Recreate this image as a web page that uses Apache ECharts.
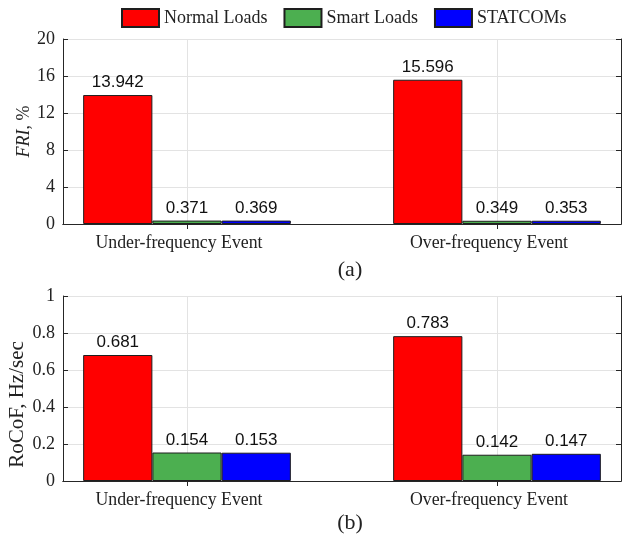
<!DOCTYPE html>
<html>
<head>
<meta charset="utf-8">
<script src="https://cdn.jsdelivr.net/npm/echarts@6/dist/echarts.min.js"></script>
<style>
  html, body { margin: 0; padding: 0; background: #fff; }
  #chart { width: 624px; height: 542px; }
</style>
</head>
<body>
<div id="chart"></div>
<script>
// Event categories, placed at x = 1 and x = 2
const categories = ['Under-frequency Event', 'Over-frequency Event'];
const categoryPos = [1, 2];
const seriesNames = ['Normal Loads', 'Smart Loads', 'STATCOMs'];
const seriesColors = ['#ff0000', '#4caf50', '#0000ff'];

// (a) frequency response index, %
const friNormal = [13.942, 15.596];
const friSmart = [0.371, 0.349];
const friStatcom = [0.369, 0.353];

// (b) rate of change of frequency, Hz/sec
const rocofNormal = [0.681, 0.783];
const rocofSmart = [0.154, 0.142];
const rocofStatcom = [0.153, 0.147];

const serif = "'Liberation Serif', 'Times New Roman', serif";
const sans = "'Liberation Sans', Arial, sans-serif";
const frameColor = '#262626';
const gridColor = '#e3e3e3';

const grids = [
  { left: 63, right: 3, top: 39, height: 185, outerBoundsMode: 'none', containLabel: false },
  { left: 63, right: 3, top: 296, height: 185, outerBoundsMode: 'none', containLabel: false }
];

function xAxes(gi) {
  const base = { type: 'value', gridIndex: gi, min: 0.6, max: 2.4,
    splitLine: { show: false } };
  return [
    Object.assign({}, base, {
      position: 'bottom',
      axisLine: { lineStyle: { color: frameColor } },
      axisTick: { inside: true, length: 5, customValues: categoryPos, lineStyle: { color: frameColor } },
      axisLabel: { customValues: categoryPos, margin: 10, color: '#222',
        fontFamily: serif, fontSize: 17.8, padding: [0, 16, 0, 0],
        formatter: v => categories[categoryPos.indexOf(Math.round(v))] || '' }
    }),
    Object.assign({}, base, {
      position: 'top',
      axisLine: { show: true, lineStyle: { color: frameColor } },
      axisTick: { inside: true, length: 5, customValues: categoryPos, lineStyle: { color: frameColor } },
      axisLabel: { show: false }
    })
  ];
}

function yAxes(gi, max, interval, name, nameGap, nameStyle) {
  const base = { type: 'value', gridIndex: gi, min: 0, max: max, interval: interval };
  return [
    Object.assign({}, base, {
      position: 'left',
      name: name, nameLocation: 'middle', nameGap: nameGap, nameMoveOverlap: false,
      nameTextStyle: nameStyle,
      axisLine: { show: true, lineStyle: { color: frameColor } },
      axisTick: { show: true, inside: true, length: 5, lineStyle: { color: frameColor } },
      axisLabel: { margin: 8, color: '#222', fontFamily: serif, fontSize: 18 },
      splitLine: { show: true, lineStyle: { color: gridColor, width: 1 } }
    }),
    Object.assign({}, base, {
      position: 'right',
      axisLine: { show: true, lineStyle: { color: frameColor } },
      axisTick: { show: true, inside: true, length: 5, lineStyle: { color: frameColor } },
      axisLabel: { show: false },
      splitLine: { show: false }
    })
  ];
}

function toPoints(vals) {
  return vals.map((v, i) => [categoryPos[i], v]);
}

function barSeries(name, color, vals, gi) {
  return {
    name: name, type: 'bar',
    xAxisIndex: gi * 2, yAxisIndex: gi * 2,
    data: toPoints(vals),
    barGap: '0%', barCategoryGap: '33%',
    z: 3,
    itemStyle: { color: color, borderColor: '#1e1e1e', borderWidth: 1 },
    label: { show: true, position: 'top', distance: 4, color: '#111',
      fontFamily: sans, fontSize: 17,
      formatter: p => p.value[1].toFixed(3) }
  };
}

// vertical grid lines at each event position, drawn beneath the bars
function vGrid(gi) {
  return {
    type: 'line', xAxisIndex: gi * 2, yAxisIndex: gi * 2, data: [], z: 1,
    silent: true,
    markLine: { silent: true, z: 1, symbol: ['none', 'none'], label: { show: false },
      lineStyle: { color: gridColor, type: 'solid', width: 1 },
      data: categoryPos.map(x => ({ xAxis: x })) }
  };
}

const option = {
  animation: false,
  backgroundColor: '#fff',
  legend: {
    data: seriesNames, left: 116, top: 3, icon: 'rect',
    itemWidth: 37, itemHeight: 18, itemGap: 16,
    textStyle: { fontFamily: serif, fontSize: 18, color: '#222' }
  },
  title: [
    { text: '(a)', left: 345, top: 254, textAlign: 'center',
      textStyle: { fontFamily: serif, fontSize: 22, fontWeight: 'normal', color: '#222' } },
    { text: '(b)', left: 345, top: 507, textAlign: 'center',
      textStyle: { fontFamily: serif, fontSize: 22, fontWeight: 'normal', color: '#222' } }
  ],
  grid: grids,
  xAxis: xAxes(0).concat(xAxes(1)),
  yAxis: yAxes(0, 20, 4, '{it|FRI}, %', 30, {
      fontFamily: serif, fontSize: 18, color: '#222',
      rich: { it: { fontFamily: serif, fontSize: 18, fontStyle: 'italic', color: '#222' } } })
    .concat(yAxes(1, 1, 0.2, 'RoCoF, Hz/sec', 35, {
      fontFamily: serif, fontSize: 21, color: '#222', padding: [0, 32, 0, 0] })),
  series: [
    vGrid(0), vGrid(1),
    barSeries(seriesNames[0], seriesColors[0], friNormal, 0),
    barSeries(seriesNames[1], seriesColors[1], friSmart, 0),
    barSeries(seriesNames[2], seriesColors[2], friStatcom, 0),
    barSeries(seriesNames[0], seriesColors[0], rocofNormal, 1),
    barSeries(seriesNames[1], seriesColors[1], rocofSmart, 1),
    barSeries(seriesNames[2], seriesColors[2], rocofStatcom, 1)
  ]
};

echarts.init(document.getElementById('chart')).setOption(option);
</script>
</body>
</html>
